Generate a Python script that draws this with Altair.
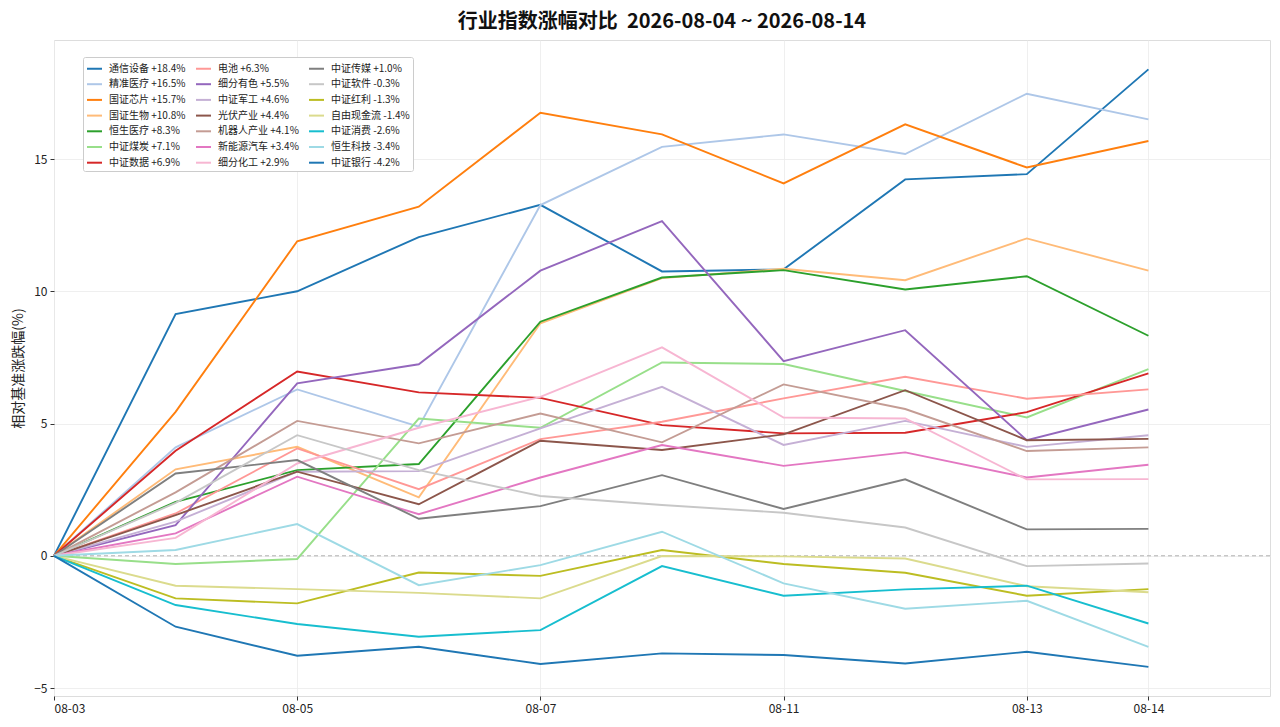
import altair as alt
import pandas as pd
import json

dates = ["08-03", "08-04", "08-05", "08-06", "08-07", "08-10", "08-11", "08-12", "08-13", "08-14"]
tick_idx = [0, 2, 4, 6, 8, 9]

names = ["通信设备", "精准医疗", "国证芯片", "国证生物", "恒生医疗", "中证煤炭", "中证数据",
         "电池", "细分有色", "中证军工", "光伏产业", "机器人产业", "新能源汽车", "细分化工",
         "中证传媒", "中证软件", "中证红利", "自由现金流", "中证消费", "恒生科技", "中证银行"]

colors = ["#1f77b4", "#aec7e8", "#ff7f0e", "#ffbb78", "#2ca02c", "#98df8a", "#d62728",
          "#ff9896", "#9467bd", "#c5b0d5", "#8c564b", "#c49c94", "#e377c2", "#f7b6d2",
          "#7f7f7f", "#c7c7c7", "#bcbd22", "#dbdb8d", "#17becf", "#9edae5", "#1f77b4"]

s_tongxin = [0, 9.14, 10.0, 12.05, 13.27, 10.75, 10.83, 14.23, 14.43, 18.39]
s_jingzhun = [0, 4.1, 6.29, 4.88, 13.26, 15.46, 15.93, 15.19, 17.47, 16.5]
s_xinpian = [0, 5.44, 11.89, 13.2, 16.75, 15.93, 14.08, 16.31, 14.68, 15.68]
s_shengwu = [0, 3.27, 4.12, 2.21, 8.79, 10.5, 10.85, 10.42, 12.0, 10.78]
s_hengsheng_yl = [0, 2.04, 3.24, 3.47, 8.85, 10.52, 10.8, 10.07, 10.57, 8.32]
s_meitan = [0, -0.31, -0.12, 5.19, 4.84, 7.31, 7.25, 6.23, 5.23, 7.06]
s_shuju = [0, 3.97, 6.97, 6.18, 5.97, 4.94, 4.63, 4.65, 5.43, 6.9]
s_dianchi = [0, 1.6, 4.06, 2.52, 4.41, 5.07, 5.95, 6.77, 5.94, 6.29]
s_youse = [0, 1.16, 6.52, 7.24, 10.78, 12.65, 7.36, 8.53, 4.37, 5.53]
s_jungong = [0, 1.29, 3.18, 3.2, 4.82, 6.39, 4.19, 5.1, 4.12, 4.56]
s_guangfu = [0, 1.54, 3.18, 1.95, 4.35, 4.0, 4.59, 6.26, 4.37, 4.42]
s_jiqiren = [0, 2.4, 5.1, 4.25, 5.38, 4.29, 6.48, 5.55, 3.96, 4.1]
s_xinnengyuan = [0, 0.85, 2.99, 1.57, 2.96, 4.19, 3.4, 3.91, 2.96, 3.44]
s_huagong = [0, 0.68, 3.49, 4.84, 6.01, 7.88, 5.23, 5.19, 2.89, 2.9]
s_chuanmei = [0, 3.11, 3.62, 1.4, 1.88, 3.05, 1.77, 2.89, 1.0, 1.02]
s_ruanjian = [0, 2.0, 4.56, 3.24, 2.26, 1.92, 1.63, 1.07, -0.39, -0.29]
s_hongli = [0, -1.61, -1.8, -0.63, -0.76, 0.22, -0.31, -0.64, -1.51, -1.26]
s_xianjinliu = [0, -1.13, -1.26, -1.4, -1.61, -0.01, -0.02, -0.1, -1.15, -1.38]
s_xiaofei = [0, -1.86, -2.58, -3.06, -2.81, -0.39, -1.51, -1.27, -1.13, -2.56]
s_hengsheng_kj = [0, 0.22, 1.2, -1.11, -0.35, 0.91, -1.04, -2.0, -1.7, -3.44]
s_yinhang = [0, -2.68, -3.78, -3.44, -4.09, -3.69, -3.75, -4.07, -3.63, -4.2]

series = [s_tongxin, s_jingzhun, s_xinpian, s_shengwu, s_hengsheng_yl, s_meitan, s_shuju,
          s_dianchi, s_youse, s_jungong, s_guangfu, s_jiqiren, s_xinnengyuan, s_huagong,
          s_chuanmei, s_ruanjian, s_hongli, s_xianjinliu, s_xiaofei, s_hengsheng_kj, s_yinhang]

labels = [f"{n} {s[-1]:+.1f}%" for n, s in zip(names, series)]

rows = []
for k, (lab, s) in enumerate(zip(labels, series)):
    for i, v in enumerate(s):
        rows.append({"series": lab, "order": k, "idx": i, "value": v})
df = pd.DataFrame(rows)

FONT = "Noto Sans CJK SC"
label_expr = json.dumps(dates) + "[datum.value]"

x_enc = alt.X("idx:Q",
              scale=alt.Scale(domain=[0, 10], nice=False, zero=False),
              axis=alt.Axis(values=tick_idx, labelExpr=label_expr, title=None,
                            grid=True, gridColor="#ebebeb", gridWidth=0.8,
                            labelFontSize=12, labelFont=FONT, labelColor="#222",
                            tickColor="#333", tickSize=4, labelPadding=3,
                            domain=False))
y_enc = alt.Y("value:Q",
              scale=alt.Scale(domain=[-5.3, 19.5], nice=False, zero=False),
              axis=alt.Axis(values=[-5, 0, 5, 10, 15], title="相对基准涨跌幅(%)",
                            grid=True, gridColor="#ebebeb", gridWidth=0.8,
                            labelFontSize=12, labelFont=FONT, labelColor="#222",
                            titleFont=FONT, titleFontSize=14, titleFontWeight="normal",
                            titleColor="#222", titlePadding=8,
                            tickColor="#333", tickSize=4, labelPadding=3,
                            domain=False))

lines = alt.Chart(df).mark_line(strokeWidth=1.9).encode(
    x=x_enc,
    y=y_enc,
    color=alt.Color("series:N",
                    scale=alt.Scale(domain=labels, range=colors),
                    legend=alt.Legend(orient="none", legendX=29, legendY=17, columns=3,
                                      title=None, symbolType="stroke", symbolSize=225,
                                      symbolStrokeWidth=2, labelFontSize=10, labelFont=FONT,
                                      labelColor="#222", rowPadding=1.7, columnPadding=6,
                                      labelOffset=6, padding=3, strokeColor="#cccccc",
                                      fillColor="white", cornerRadius=2)),
    detail="order:N",
    order="idx:Q",
)

zero_df = pd.DataFrame({"z": [0]})
zero = alt.Chart(zero_df).mark_rule(color="#b0b0b0", strokeDash=[4, 3], strokeWidth=1).encode(
    y=alt.Y("z:Q")
)

chart = alt.layer(zero, lines).properties(
    width=1216,
    height=656,
    title=alt.TitleParams("行业指数涨幅对比\u00a0\u00a02026-08-04 ~ 2026-08-14", fontSize=20,
                          fontWeight="bold", font=FONT, anchor="middle", offset=8,
                          color="#111"),
    autosize=alt.AutoSizeParams(type="none"),
    padding={"left": 46, "top": 32, "right": 2, "bottom": 23},
).configure_view(stroke="#333333", strokeWidth=1).configure(background="white")

chart.save("out.html", embed_options={"renderer": "svg", "actions": False})
